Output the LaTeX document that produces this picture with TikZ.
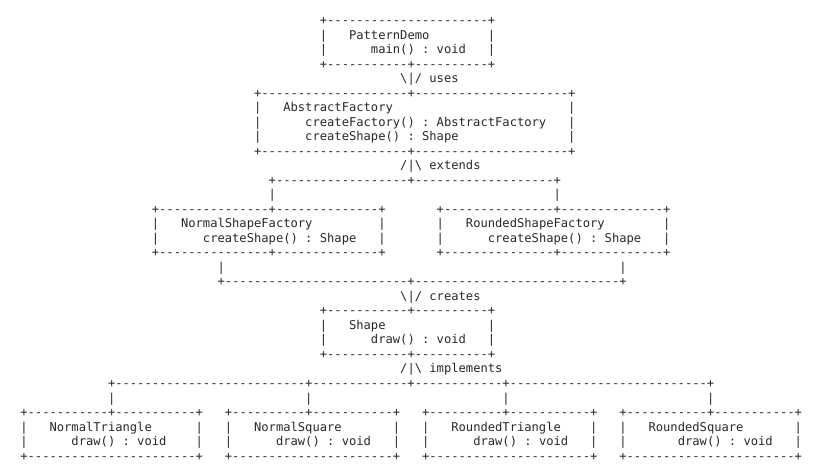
\documentclass[tikz,border=0pt]{standalone}
\usepackage{fontspec}
\setmonofont{DejaVu Sans Mono}
\ExplSyntaxOn
\cs_new:Npn \myRep #1 { \prg_replicate:nn {#1} {-} }
\ExplSyntaxOff
\definecolor{ink}{RGB}{40,40,40}
\tikzset{txt/.style={anchor=base west, inner sep=0pt, outer sep=0pt,
  font=\ttfamily\fontsize{9.1}{10}\selectfont, text=ink}}
\newcommand\mySeg[4]{\node[txt] (#1) at ({20.35+7.305*#2},{24.5+14.52*#3}) {#4};}
\begin{document}
\begin{tikzpicture}[x=0.75pt,y=-0.75pt]
\useasboundingbox (0,0) rectangle (825,475);
% PatternDemo
\mySeg{pdTop}{41}{0}{+\myRep{22}+}
\mySeg{pdL1}{41}{1}{|}\mySeg{pdName}{45}{1}{PatternDemo}\mySeg{pdR1}{64}{1}{|}
\mySeg{pdL2}{41}{2}{|}\mySeg{pdMain}{48}{2}{main() : void}\mySeg{pdR2}{64}{2}{|}
\mySeg{pdBot}{41}{3}{+\myRep{11}+\myRep{10}+}
\mySeg{uses}{52}{4}{\textbackslash|/ uses}
% AbstractFactory
\mySeg{afTop}{32}{5}{+\myRep{20}+\myRep{21}+}
\mySeg{afL1}{32}{6}{|}\mySeg{afName}{36}{6}{AbstractFactory}\mySeg{afR1}{75}{6}{|}
\mySeg{afL2}{32}{7}{|}\mySeg{afM1}{39}{7}{createFactory() : AbstractFactory}\mySeg{afR2}{75}{7}{|}
\mySeg{afL3}{32}{8}{|}\mySeg{afM2}{39}{8}{createShape() : Shape}\mySeg{afR3}{75}{8}{|}
\mySeg{afBot}{32}{9}{+\myRep{20}+\myRep{21}+}
\mySeg{extends}{52}{10}{/|\textbackslash{} extends}
\mySeg{extLine}{34}{11}{+\myRep{18}+\myRep{19}+}
\mySeg{extA}{34}{12}{|}\mySeg{extB}{73}{12}{|}
% factories
\mySeg{nsfTop}{18}{13}{+\myRep{15}+\myRep{14}+}
\mySeg{rsfTop}{57}{13}{+\myRep{15}+\myRep{14}+}
\mySeg{nsfL1}{18}{14}{|}\mySeg{nsfName}{22}{14}{NormalShapeFactory}\mySeg{nsfR1}{49}{14}{|}
\mySeg{rsfL1}{57}{14}{|}\mySeg{rsfName}{61}{14}{RoundedShapeFactory}\mySeg{rsfR1}{88}{14}{|}
\mySeg{nsfL2}{18}{15}{|}\mySeg{nsfM}{25}{15}{createShape() : Shape}\mySeg{nsfR2}{49}{15}{|}
\mySeg{rsfL2}{57}{15}{|}\mySeg{rsfM}{64}{15}{createShape() : Shape}\mySeg{rsfR2}{88}{15}{|}
\mySeg{nsfBot}{18}{16}{+\myRep{15}+\myRep{14}+}
\mySeg{rsfBot}{57}{16}{+\myRep{15}+\myRep{14}+}
\mySeg{crA}{27}{17}{|}\mySeg{crB}{82}{17}{|}
\mySeg{crLine}{27}{18}{+\myRep{25}+\myRep{28}+}
\mySeg{creates}{52}{19}{\textbackslash|/ creates}
% Shape
\mySeg{shTop}{41}{20}{+\myRep{11}+\myRep{10}+}
\mySeg{shL1}{41}{21}{|}\mySeg{shName}{45}{21}{Shape}\mySeg{shR1}{64}{21}{|}
\mySeg{shL2}{41}{22}{|}\mySeg{shM}{48}{22}{draw() : void}\mySeg{shR2}{64}{22}{|}
\mySeg{shBot}{41}{23}{+\myRep{11}+\myRep{10}+}
\mySeg{implements}{52}{24}{/|\textbackslash{} implements}
\mySeg{imLine}{12}{25}{+\myRep{26}+\myRep{13}+\myRep{12}+\myRep{27}+}
\mySeg{imA}{12}{26}{|}\mySeg{imB}{39}{26}{|}\mySeg{imC}{66}{26}{|}\mySeg{imD}{94}{26}{|}
% concrete shapes
\mySeg{ntTop}{0}{27}{+\myRep{11}+\myRep{11}+}
\mySeg{nqTop}{28}{27}{+\myRep{10}+\myRep{11}+}
\mySeg{rtTop}{55}{27}{+\myRep{10}+\myRep{11}+}
\mySeg{rqTop}{82}{27}{+\myRep{11}+\myRep{11}+}
\mySeg{ntL1}{0}{28}{|}\mySeg{ntName}{4}{28}{NormalTriangle}\mySeg{ntR1}{24}{28}{|}
\mySeg{nqL1}{28}{28}{|}\mySeg{nqName}{32}{28}{NormalSquare}\mySeg{nqR1}{51}{28}{|}
\mySeg{rtL1}{55}{28}{|}\mySeg{rtName}{59}{28}{RoundedTriangle}\mySeg{rtR1}{78}{28}{|}
\mySeg{rqL1}{82}{28}{|}\mySeg{rqName}{86}{28}{RoundedSquare}\mySeg{rqR1}{106}{28}{|}
\mySeg{ntL2}{0}{29}{|}\mySeg{ntM}{7}{29}{draw() : void}\mySeg{ntR2}{24}{29}{|}
\mySeg{nqL2}{28}{29}{|}\mySeg{nqM}{35}{29}{draw() : void}\mySeg{nqR2}{51}{29}{|}
\mySeg{rtL2}{55}{29}{|}\mySeg{rtM}{62}{29}{draw() : void}\mySeg{rtR2}{78}{29}{|}
\mySeg{rqL2}{82}{29}{|}\mySeg{rqM}{90}{29}{draw() : void}\mySeg{rqR2}{106}{29}{|}
\mySeg{ntBot}{0}{30}{+\myRep{23}+}
\mySeg{nqBot}{28}{30}{+\myRep{22}+}
\mySeg{rtBot}{55}{30}{+\myRep{22}+}
\mySeg{rqBot}{82}{30}{+\myRep{23}+}
\end{tikzpicture}
\end{document}
